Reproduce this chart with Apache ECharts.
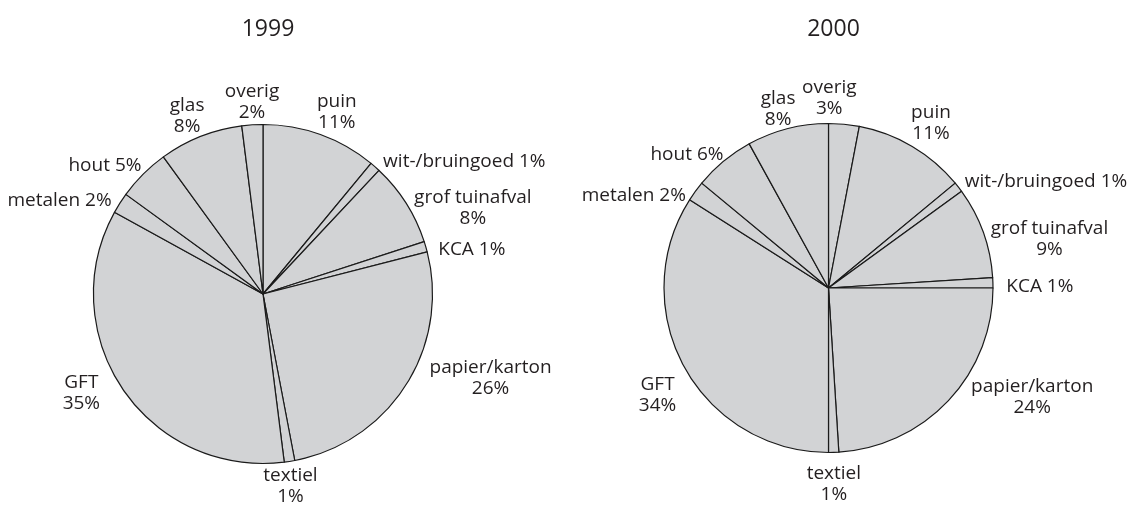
<!DOCTYPE html>
<html>
<head>
<meta charset="utf-8">
<script src="https://cdn.jsdelivr.net/npm/echarts@6/dist/echarts.min.js"></script>
<style>
  html, body { margin: 0; padding: 0; background: #ffffff; }
  #chart { width: 1129px; height: 507px; }
</style>
</head>
<body>
<div id="chart"></div>
<script>
// ---- data ----
const years = ['1999', '2000'];
const categories1999 = ['puin', 'wit-/bruingoed', 'grof tuinafval', 'KCA', 'papier/karton', 'textiel', 'GFT', 'metalen', 'hout', 'glas', 'overig'];
const values1999 = [11, 1, 8, 1, 26, 1, 35, 2, 5, 8, 2];
const categories2000 = ['overig', 'puin', 'wit-/bruingoed', 'grof tuinafval', 'KCA', 'papier/karton', 'textiel', 'GFT', 'metalen', 'hout', 'glas'];
const values2000 = [3, 11, 1, 9, 1, 24, 1, 34, 2, 6, 8];

// ---- layout / style (not data) ----
const pies = [
  { center: [263, 294], radius: 169.5 },
  { center: [828.5, 288], radius: 164.5 }
];
const oneLine = ['wit-/bruingoed', 'KCA', 'metalen', 'hout'];
// label placement factors relative to label box half-size: [fx, fy]
const place = [
  { 'puin': [0.72, -0.9], 'wit-/bruingoed': [1.05, -0.25], 'grof tuinafval': [1.05, 0.3], 'KCA': [1.2, 0.2],
    'papier/karton': [1.3, -0.55], 'textiel': [0, 0.78], 'GFT': [-1.95, -0.08], 'metalen': [-1.06, -0.1],
    'hout': [-0.93, -0.6], 'glas': [-0.65, -0.8], 'overig': [0, -0.9] },
  { 'overig': [-0.56, -1.05], 'puin': [0.79, -0.96], 'wit-/bruingoed': [1.02, -0.35], 'grof tuinafval': [1.03, 0.34],
    'KCA': [1.22, 0.23], 'papier/karton': [1.3, -0.44], 'textiel': [0, 1.13], 'GFT': [-1.15, 1.09],
    'metalen': [-1.09, 0.52], 'hout': [-0.9, -0.37], 'glas': [-0.46, -0.74] }
];
const GAP = 6;
const DY = 2;
const FONT = '"Open Sans", "Noto Sans", sans-serif';

const cats = [categories1999, categories2000];
const vals = [values1999, values2000];

function midAngle(si, di) {
  const v = vals[si];
  const total = v.reduce((a, b) => a + b, 0);
  let cum = 0;
  for (let i = 0; i < di; i++) cum += v[i];
  return (cum + v[di] / 2) / total * Math.PI * 2;
}

function makeSeries(si) {
  return {
    type: 'pie',
    center: pies[si].center,
    radius: [0, pies[si].radius],
    startAngle: 90,
    clockwise: true,
    avoidLabelOverlap: false,
    silent: true,
    itemStyle: { color: '#d2d3d5', borderColor: '#1a1a1a', borderWidth: 1.2 },
    label: {
      show: true,
      position: 'outside',
      color: '#231f20',
      fontFamily: FONT,
      fontSize: 19,
      lineHeight: 21,
      formatter: function (p) {
        return p.name + (oneLine.indexOf(p.name) >= 0 ? ' ' : '\n') + p.value + '%';
      }
    },
    labelLine: { show: false },
    emphasis: { disabled: true },
    labelLayout: function (params) {
      const di = params.dataIndex;
      const a = midAngle(si, di);
      const ux = Math.sin(a), uy = -Math.cos(a);
      const d = pies[si].radius + GAP;
      const ax = pies[si].center[0] + ux * d;
      const ay = pies[si].center[1] + uy * d;
      const f = place[si][cats[si][di]] || [ux, uy];
      const w = params.labelRect.width, h = params.labelRect.height;
      return {
        x: ax + f[0] * w / 2,
        y: ay + f[1] * h / 2 + DY,
        align: 'center',
        verticalAlign: 'middle'
      };
    },
    data: cats[si].map((c, i) => ({ name: c, value: vals[si][i] }))
  };
}

const chart = echarts.init(document.getElementById('chart'), null, { renderer: 'canvas' });
chart.setOption({
  animation: false,
  backgroundColor: '#ffffff',
  title: years.map((y, i) => ({
    text: y,
    left: pies[i].center[0],
    top: 13,
    textAlign: 'center',
    textStyle: { fontFamily: FONT, fontSize: 23, fontWeight: 'normal', color: '#231f20' }
  })),
  series: [makeSeries(0), makeSeries(1)]
});
</script>
</body>
</html>
